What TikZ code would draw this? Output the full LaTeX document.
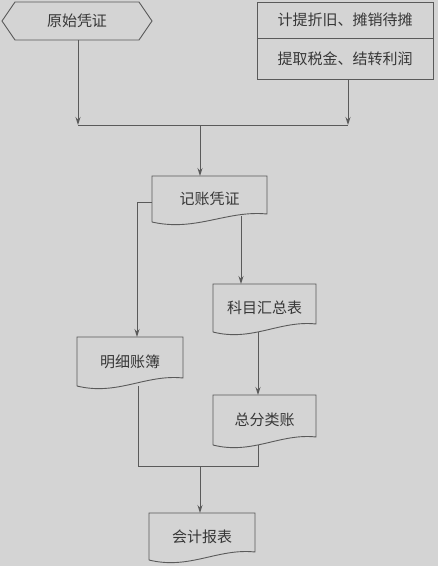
\documentclass[tikz,border=0pt]{standalone}
\usepackage{fontspec}
\newfontfamily\cjk{Noto Sans CJK SC}
\usetikzlibrary{calc,arrows.meta}
\definecolor{bgc}{RGB}{212,212,212}
\definecolor{lnc}{RGB}{90,90,90}
\definecolor{txc}{RGB}{55,55,55}
\tikzset{
  ln/.style={draw=lnc, line width=0.9pt},
  arr/.style={ln, -{Stealth[length=8pt,width=5pt]}},
  lbl/.style={inner sep=0pt, outer sep=0pt, font=\cjk\fontsize{15pt}{15pt}\selectfont, text=txc},
}
\newcommand\docline[1]{%
  \draw[ln] (#1.south west) -- (#1.north west) -- (#1.north east) -- ($(#1.south east)+(0,-8)$)
    .. controls ($(#1.south east)!0.35!(#1.south west)+(0,-12)$) and ($(#1.south east)!0.62!(#1.south west)+(0,10)$) .. (#1.south west);}
\begin{document}
\begin{tikzpicture}[x=1pt,y=-1pt]
\fill[bgc] (0,0) rectangle (438,566);
\useasboundingbox (0,0) rectangle (438,566);
% hexagon
\node[lbl, minimum width=150pt, minimum height=38pt] (ys) at (77,21) {原始凭证};
\draw[ln] (ys.west) -- ($(ys.north west)+(13,0)$) -- ($(ys.north east)+(-13,0)$) -- (ys.east)
  -- ($(ys.south east)+(-13,0)$) -- ($(ys.south west)+(13,0)$) -- cycle;
% right box
\node[lbl, minimum width=176pt, minimum height=36pt] (r1) at (345,20) {计提折旧、摊销待摊};
\node[lbl, minimum width=176pt, minimum height=41pt, anchor=north] (r2) at (r1.south) {提取税金、结转利润};
\draw[ln] (r1.north west) rectangle (r2.south east);
\draw[ln] (r1.south west) -- (r1.south east);
% documents
\node[lbl, minimum width=115pt, minimum height=46pt] (jz) at (209.5,199) {记账凭证};
\node[lbl, minimum width=103pt, minimum height=48pt] (km) at (264.5,308) {科目汇总表};
\node[lbl, minimum width=106pt, minimum height=49pt] (mx) at (130,361.5) {明细账簿};
\node[lbl, minimum width=103pt, minimum height=50pt] (zf) at (264.5,420) {总分类账};
\node[lbl, minimum width=106pt, minimum height=47pt] (kj) at (202,536.5) {会计报表};
\docline{jz}\docline{km}\docline{mx}\docline{zf}\docline{kj}
% junctions
\coordinate (j1) at (200,125);
\coordinate (j2) at (200,466);
\coordinate (jzl) at (137,202);
\coordinate (jzb) at (241,216);
% connectors
\draw[arr] ([xshift=1pt]ys.south) -- ([xshift=1pt]ys.south |- j1);
\draw[arr] ([xshift=3pt]r2.south) -- ([xshift=3pt]r2.south |- j1);
\draw[ln] ([xshift=1pt]ys.south |- j1) -- ([xshift=3pt]r2.south |- j1);
\draw[arr] (j1) -- (j1 |- jz.north);
\draw[ln] (jz.west |- jzl) -- (jzl);
\draw[arr] (jzl) -- (jzl |- mx.north);
\draw[arr] (jzb) -- (jzb |- km.north);
\draw[arr] ([xshift=-6.5pt]km.south) -- ([xshift=-6.5pt]km.south |- zf.north);
\draw[ln] ([xshift=8pt]mx.south) -- ([xshift=8pt]mx.south |- j2) -- ([xshift=-6.5pt]zf.south |- j2) -- ([xshift=-6.5pt]zf.south);
\draw[arr] (j2) -- (j2 |- kj.north);
\end{tikzpicture}
\end{document}
